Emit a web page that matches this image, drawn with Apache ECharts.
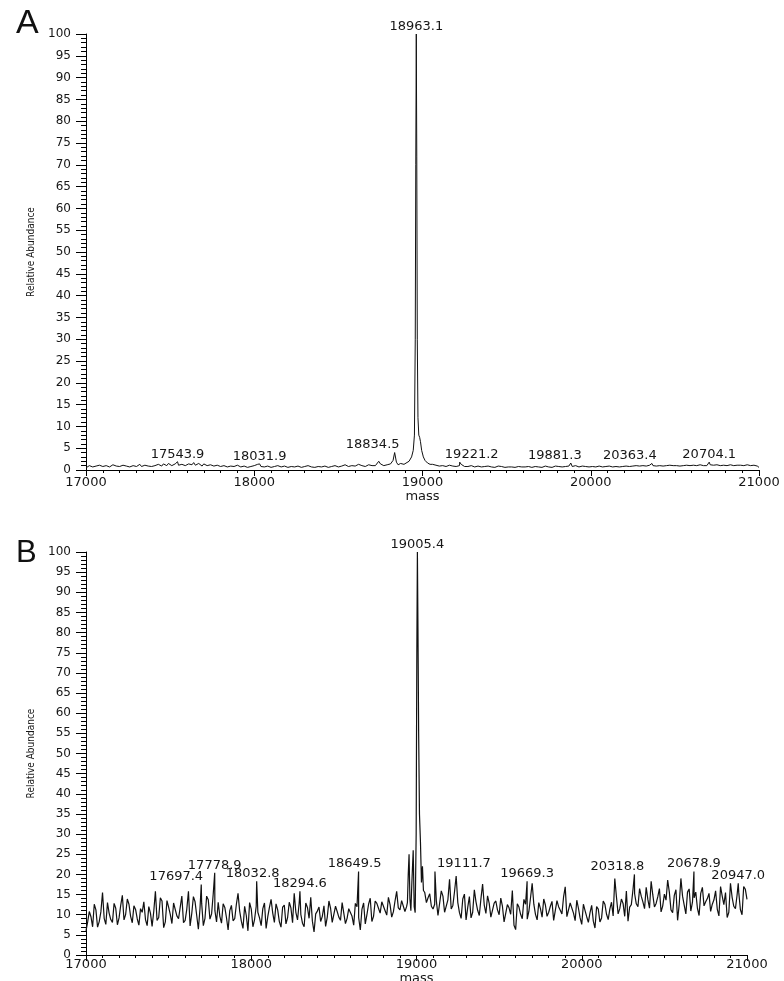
<!DOCTYPE html>
<html>
<head>
<meta charset="utf-8">
<script src="https://cdn.jsdelivr.net/npm/echarts@6/dist/echarts.min.js"></script>
<style>html,body{margin:0;padding:0;background:#fff}#c{width:784px;height:981px}</style>
</head>
<body>
<div id="c"></div>
<script>
// ---- data ----
const xTicks = [17000, 18000, 19000, 20000, 21000];

// Panel A baseline, masses 17000, 17020, ... 21000
const noiseA = [
  0.5,1.0,0.7,0.9,1.1,0.8,1.0,0.7,1.2,0.9,
  0.8,1.1,0.9,0.7,1.0,0.8,1.3,0.9,0.7,1.0,
  1.2,0.9,1.1,1.4,1.0,1.3,1.2,1.6,1.1,1.5,
  1.2,1.0,1.7,1.3,1.1,1.4,1.0,1.2,0.9,1.1,
  0.8,1.0,0.7,0.9,0.8,1.1,0.7,0.9,0.6,0.8,
  1.0,1.3,0.8,0.7,0.9,0.6,0.8,1.0,0.7,0.9,
  0.6,0.8,0.7,0.9,0.6,0.8,1.0,0.7,0.6,0.8,
  0.7,0.9,0.6,0.8,1.0,0.7,0.9,1.2,0.8,1.0,
  0.9,1.3,1.0,0.8,1.2,1.0,1.0,2.0,1.1,1.3,
  1.2,1.5,1.3,1.6,1.4,1.2,1.5,1.8,2.2,3.5,
  6.0,3.0,2.0,1.3,1.1,0.9,1.0,0.8,1.1,0.9,
  0.8,1.0,1.4,0.9,0.7,0.9,0.6,0.8,1.0,0.7,
  0.6,0.8,0.5,0.7,0.9,0.6,0.8,0.5,0.7,0.6,
  0.8,0.6,0.9,0.7,0.5,0.8,0.6,0.9,0.7,0.8,
  0.6,0.9,1.0,0.7,1.1,0.8,1.0,0.7,0.9,0.8,
  0.7,0.9,0.6,0.8,1.0,0.7,0.8,0.6,0.9,0.7,
  0.8,1.0,0.7,0.9,1.1,0.8,1.0,1.2,0.9,1.1,
  0.8,1.0,1.2,0.9,1.1,0.8,1.0,1.2,0.9,1.1,
  1.0,1.3,0.9,1.1,1.2,0.9,1.4,1.0,1.2,1.3,
  1.1,0.9,1.2,1.0,1.3,0.9,1.1,1.2,0.8,1.0,
  0.6
];
// Panel A baseline, masses 17010, 17030, ... 20990
const noiseAmid = [
  0.8,0.6,1.0,0.7,0.9,1.1,0.6,1.0,0.8,1.1,
  0.9,0.7,1.1,0.8,1.2,0.9,0.8,1.1,0.9,0.8,
  1.0,1.3,0.9,1.2,1.5,1.0,1.4,1.1,1.3,1.0,
  1.4,1.2,1.1,1.5,0.9,1.2,1.3,0.9,1.0,0.8,
  1.1,0.8,1.0,0.7,1.0,0.9,1.0,0.8,0.9,1.0,
  0.8,0.9,1.0,0.9,0.7,0.9,1.0,0.8,0.9,0.7,
  0.9,0.7,0.9,0.7,0.8,0.9,0.8,0.9,0.8,0.7,
  0.9,0.7,0.9,0.7,0.8,0.9,1.1,0.9,1.0,0.8,
  1.1,1.0,0.9,1.1,0.9,1.3,1.2,1.4,1.0,1.2,
  1.4,1.3,1.2,1.5,1.3,1.6,1.7,2.5,3.0,5.0,
  4.0,2.5,1.6,1.2,1.0,1.2,0.8,1.0,0.9,1.0,
  1.1,1.3,0.8,0.8,1.0,0.7,0.9,0.7,0.8,0.9,
  0.7,0.6,0.9,0.8,0.6,0.7,0.7,0.6,0.8,0.7,
  0.7,0.8,0.6,0.8,0.7,0.6,0.9,0.7,0.6,0.9,
  0.8,0.7,0.8,0.9,0.8,1.0,0.7,0.9,0.8,0.7,
  0.8,0.7,0.9,0.7,0.8,0.9,0.7,0.8,0.7,0.8,
  0.9,0.8,0.9,1.0,0.9,1.0,0.9,1.1,1.0,0.9,
  1.0,0.9,1.0,1.1,1.0,1.0,0.9,1.0,1.1,1.0,
  1.1,1.0,1.2,1.0,1.0,1.2,1.1,1.2,1.0,1.1,
  1.0,1.2,1.0,1.1,1.1,1.0,1.2,1.0,1.1,0.9
];
// Panel A peak shapes [mass, abundance]
const clustersA = [
  [[18815,1.3],[18825,2.2],[18845,1.8],[18855,1.2]],
  [[18900,1.5],[18920,2.0],[18935,3.0],[18945,4.5],[18952,8],[18957,30],[18960,70],
   [18966,72],[18969,30],[18973,12],[18978,8],[18983,7.5],[18988,6.5],[18995,4.5],
   [19005,3.0],[19015,2.2],[19030,1.6],[19045,1.3]]
];
// Panel A labelled peaks [mass, abundance]
const peaksA = [[17543.9,1.9],[18031.9,1.4],[18834.5,4.0],[18963.1,100],
                [19221.2,1.8],[19881.3,1.6],[20363.4,1.5],[20704.1,1.8]];

// Panel B baseline, masses 17000, 17020, ... 21000
const noiseB = [
  6.0,10.8,7.0,11.2,8.3,15.5,7.6,10.4,8.1,11.6,
  9.2,14.8,10.1,12.6,8.0,11.3,7.4,10.6,8.8,12.0,
  7.1,15.8,9.3,13.4,8.2,11.9,7.8,12.5,9.0,14.6,
  8.6,15.8,10.3,13.2,6.4,12.8,9.1,13.7,10.2,11.0,
  13.1,7.9,11.8,6.2,12.3,9.0,15.3,8.4,12.1,6.0,
  11.4,8.8,10.6,7.3,12.9,9.5,13.8,8.1,11.2,6.9,
  12.4,9.3,11.7,15.3,8.7,10.1,7.0,11.8,14.3,5.7,
  10.9,8.3,12.2,9.4,11.6,7.9,10.8,8.6,12.7,9.1,
  11.3,7.4,12.0,6.2,12.9,10.0,14.1,9.6,12.8,10.4,
  13.6,9.9,12.5,10.7,15.8,11.2,13.9,12.0,14.0,12.0,
  20.0,20.0,16.0,13.0,15.2,11.4,13.5,10.2,14.6,11.0,
  18.8,12.3,19.6,10.5,13.9,8.7,14.5,10.6,13.2,9.8,
  17.6,10.3,12.8,9.1,13.4,10.0,12.1,8.4,11.7,16.0,
  6.3,11.9,9.0,12.6,10.8,17.8,10.1,13.0,9.4,12.4,
  10.6,13.3,8.9,12.0,10.2,16.9,9.7,12.8,8.5,11.6,
  7.6,11.0,8.1,12.3,6.7,11.4,9.2,12.6,8.8,13.1,
  19.0,10.2,13.9,9.6,8.4,12.5,15.2,12.0,14.6,11.5,
  13.8,18.3,11.9,14.4,10.7,15.1,18.6,11.2,14.8,8.6,
  19.0,12.4,15.6,10.9,14.2,11.6,15.3,12.2,14.0,10.8,
  13.7,11.4,17.0,12.5,9.3,17.8,12.1,14.9,11.3,17.0,
  13.8
];
// Panel B baseline, masses 17010, 17030, ... 20990
const noiseBmid = [
  8.2,9.5,12.6,6.9,10.7,9.1,13.0,8.8,12.8,7.5,
  12.3,8.7,13.9,9.6,12.2,9.0,11.5,13.2,7.3,10.4,
  10.8,8.6,14.2,6.8,13.5,10.1,12.9,9.7,11.8,8.0,
  11.4,7.2,14.5,9.8,11.6,7.3,14.6,8.9,15.2,8.2,
  9.6,12.7,9.3,11.0,8.5,12.6,10.9,6.6,9.8,13.0,
  7.0,12.1,9.2,11.5,6.6,11.8,10.4,12.7,8.3,11.9,
  7.7,13.1,8.0,10.6,12.9,7.9,12.9,9.1,8.4,10.2,
  11.9,9.6,7.1,13.4,8.1,12.1,9.4,13.0,7.8,11.5,
  9.6,12.8,9.3,11.4,7.7,12.6,8.3,13.4,11.6,13.2,
  11.0,14.3,9.4,13.4,11.7,13.5,10.8,15.0,14.0,14.0,
  30.0,22.0,17.0,14.2,12.1,12.6,9.8,15.9,10.6,13.7,
  11.4,15.7,13.0,9.1,15.1,11.8,9.2,16.2,11.1,14.0,
  12.4,14.7,9.4,12.9,11.2,14.1,8.2,12.5,10.1,7.4,
  12.7,10.1,13.8,8.9,14.2,12.6,8.7,11.5,13.9,9.6,
  12.1,8.6,13.5,11.1,14.4,9.5,12.9,10.4,13.6,9.2,
  12.6,9.5,10.5,8.4,12.0,8.2,13.4,10.1,11.4,9.7,
  14.4,11.5,12.8,15.9,11.9,16.2,12.7,16.5,13.2,16.8,
  11.6,14.9,12.8,16.5,12.2,13.6,15.6,10.5,16.2,12.7,
  14.6,10.2,16.4,13.1,15.6,9.8,16.8,13.2,15.3,12.6,
  15.9,9.7,14.6,15.5,10.6,14.3,11.5,15.6,10.0,16.3
];
const clustersB = [
  [[18945,13],[18950,20],[18955,25],[18960,14],[18966,11],[18972,18],[18980,26],
   [18986,12],[18992,10.5],[18998,30],[19002,75],[19009,80],[19013,55],[19018,35],
   [19024,28],[19030,18],[19036,22],[19042,16],[19050,15.5],[19060,13]]
];
const peaksB = [[17697.4,17.5],[17778.9,20.4],[18032.8,18.3],[18294.6,15.8],[18649.5,20.7],
                [19005.4,100],[19111.7,20.7],[19669.3,18.3],[20318.8,20.0],[20678.9,20.7],[20947.0,17.8]];

// label horizontal shifts (px) for labels the instrument software moved aside
const labelShiftA = {'18834.5':-22,'19221.2':12,'19881.3':-16,'20363.4':-22};
const labelShiftB = {'17697.4':-25,'18032.8':-4,'18649.5':-4,'19111.7':29,'20318.8':-17};

// ---- build ----
function build(noiseSets, clusters, peaks) {
  const ranges = clusters.map(c => [c[0][0], c[c.length - 1][0]]);
  const pts = [];
  noiseSets.forEach(s => s.values.forEach((v, i) => {
    const m = s.start + i * 20;
    if (!ranges.some(r => m >= r[0] && m <= r[1])) pts.push([m, v]);
  }));
  clusters.forEach(c => c.forEach(p => pts.push(p)));
  peaks.forEach(p => pts.push(p));
  pts.sort((a, b) => a[0] - b[0]);
  return pts;
}
function marks(peaks, shift) {
  return peaks.map(p => {
    const name = p[0].toFixed(1);
    return { name: name, coord: [p[0], p[1]], label: { offset: [shift[name] || 0, 0] } };
  });
}

const TXT = '#161616';
const FONT = 'DejaVu Sans';
function makeX(gi, margin, gap) {
  return {
    type: 'value', gridIndex: gi, min: 17000, max: 21000, interval: 1000,
    name: 'mass', nameLocation: 'middle', nameGap: gap,
    nameTextStyle: { fontFamily: FONT, fontSize: 13, color: TXT },
    axisLine: { show: true, lineStyle: { color: '#000', width: 1 } },
    axisTick: { show: true, length: 6, lineStyle: { color: '#000' } },
    minorTick: { show: true, splitNumber: 10, length: 3, lineStyle: { color: '#000' } },
    axisLabel: { margin: margin, fontFamily: FONT, fontSize: 13, color: TXT,
                 formatter: v => String(v) },
    splitLine: { show: false }, minorSplitLine: { show: false }
  };
}
function makeY(gi) {
  return {
    type: 'value', gridIndex: gi, min: 0, max: 100, interval: 5,
    name: 'Relative Abundance', nameLocation: 'middle', nameGap: 50,
    nameTextStyle: { fontFamily: 'Liberation Sans Narrow, DejaVu Sans Condensed, Liberation Sans', fontSize: 10, color: TXT },
    axisLine: { show: true, lineStyle: { color: '#000', width: 1 } },
    axisTick: { show: true, length: 10, lineStyle: { color: '#000' } },
    minorTick: { show: true, splitNumber: 5, length: 5, lineStyle: { color: '#000' } },
    axisLabel: { margin: 15, fontFamily: FONT, fontSize: 12, color: TXT },
    splitLine: { show: false }, minorSplitLine: { show: false }
  };
}
function makeSeries(gi, data, peaks, shift, w) {
  return {
    type: 'line', xAxisIndex: gi, yAxisIndex: gi, data: data,
    showSymbol: false, symbol: 'none', smooth: false, sampling: null,
    lineStyle: { color: '#111', width: w },
    markPoint: {
      symbol: 'circle', symbolSize: 0, silent: true,
      label: { show: true, position: 'top', distance: 1, formatter: '{b}',
               fontFamily: FONT, fontSize: 13, color: TXT },
      data: marks(peaks, shift)
    }
  };
}

const chart = echarts.init(document.getElementById('c'), null, { renderer: 'canvas' });
chart.setOption({
  animation: false,
  backgroundColor: '#ffffff',
  title: [
    { text: 'A', left: 11, top: 2, textStyle: { fontFamily: 'Liberation Sans', fontSize: 34, fontWeight: 'normal', color: '#111' } },
    { text: 'B', left: 11, top: 533, textStyle: { fontFamily: 'Liberation Sans', fontSize: 31, fontWeight: 'normal', color: '#111' } }
  ],
  grid: [
    { left: 86, right: 25, top: 34, height: 436, outerBoundsMode: 'none' },
    { left: 86, right: 37, top: 552, height: 403, outerBoundsMode: 'none' }
  ],
  xAxis: [makeX(0, 6, 15), makeX(1, 3, 9)],
  yAxis: [makeY(0), makeY(1)],
  series: [
    makeSeries(0, build([{ start: 17000, values: noiseA }, { start: 17010, values: noiseAmid }], clustersA, peaksA), peaksA, labelShiftA, 1),
    makeSeries(1, build([{ start: 17000, values: noiseB }, { start: 17010, values: noiseBmid }], clustersB, peaksB), peaksB, labelShiftB, 1.2)
  ]
});
</script>
</body>
</html>
